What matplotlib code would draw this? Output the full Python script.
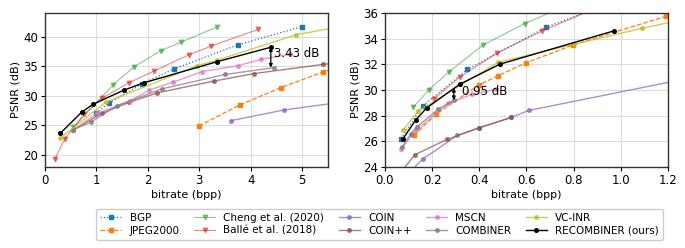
import numpy as np
import matplotlib
matplotlib.use('Agg')
import matplotlib.pyplot as plt

# left panel (Kodak-like)
l_bgp_x = [0.99, 1.25, 1.88, 2.50, 3.75, 5.00]
l_bgp_y = [27.1, 28.8, 32.0, 34.5, 38.6, 41.7]
l_jpeg_x = [2.99, 3.80, 4.59, 5.40, 6.00]
l_jpeg_y = [24.9, 28.5, 31.4, 34.0, 35.7]
l_cheng_x = [0.55, 1.33, 1.73, 2.26, 2.64, 3.34]
l_cheng_y = [24.7, 31.9, 34.9, 37.65, 39.05, 41.6]
l_balle_x = [0.19, 0.38, 0.76, 1.11, 1.63, 2.12, 2.79, 3.23, 4.14]
l_balle_y = [19.3, 22.7, 26.9, 29.6, 32.2, 34.2, 36.9, 38.4, 41.2]
l_coin_x = [3.61, 4.64, 6.50]
l_coin_y = [25.8, 27.6, 29.8]
l_coinpp_x = [0.55, 1.10, 1.64, 2.18, 3.29, 4.06, 5.40, 6.00]
l_coinpp_y = [24.2, 27.05, 28.9, 30.5, 32.5, 33.75, 35.3, 35.8]
l_mscn_x = [0.55, 1.01, 1.65, 2.02, 2.49, 3.06, 3.76, 4.20, 4.77]
l_mscn_y = [24.2, 27.05, 29.1, 30.95, 32.3, 34.1, 35.1, 36.15, 37.05]
l_comb_x = [0.55, 0.90, 1.39, 2.28, 3.50, 4.45]
l_comb_y = [24.3, 25.6, 28.3, 31.2, 33.6, 34.75]
l_vcinr_x = [0.29, 1.18, 2.96, 3.34, 4.88, 6.00]
l_vcinr_y = [22.85, 28.9, 35.1, 36.0, 40.3, 42.1]
l_recomb_x = [0.30, 0.72, 0.94, 1.53, 1.92, 3.34, 4.39]
l_recomb_y = [23.7, 27.3, 28.6, 30.95, 32.2, 35.75, 38.2]

# right panel (CIFAR-like)
r_bgp_x = [0.068, 0.16, 0.35, 0.685, 1.00]
r_bgp_y = [26.2, 28.75, 31.6, 34.9, 37.05]
r_jpeg_x = [0.123, 0.216, 0.40, 0.48, 0.597, 0.798, 1.193, 1.40]
r_jpeg_y = [26.45, 28.1, 30.4, 31.1, 32.1, 33.5, 35.74, 36.9]
r_cheng_x = [0.12, 0.186, 0.271, 0.416, 0.593, 0.80]
r_cheng_y = [28.65, 30.0, 31.4, 33.5, 35.17, 36.8]
r_balle_x = [0.208, 0.318, 0.477, 0.668, 0.95]
r_balle_y = [29.3, 31.0, 32.9, 34.6, 36.8]
r_coin_x = [0.10, 0.16, 0.306, 0.40, 0.535, 0.61, 1.30]
r_coin_y = [23.5, 24.6, 26.45, 27.05, 27.85, 28.4, 30.95]
r_coinpp_x = [0.06, 0.127, 0.264, 0.40, 0.535]
r_coinpp_y = [23.4, 24.95, 26.15, 27.05, 27.85]
r_mscn_x = [0.069, 0.131, 0.268, 0.37, 0.47]
r_mscn_y = [25.4, 26.85, 28.95, 29.65, 30.05]
r_comb_x = [0.073, 0.11, 0.134, 0.226, 0.292]
r_comb_y = [25.55, 26.6, 27.1, 28.5, 29.2]
r_vcinr_x = [0.078, 0.141, 0.48, 0.80, 1.09, 1.40]
r_vcinr_y = [26.9, 28.35, 32.15, 33.55, 34.8, 36.0]
r_recomb_x = [0.075, 0.13, 0.177, 0.318, 0.487, 0.971]
r_recomb_y = [26.15, 27.65, 28.6, 30.45, 32.0, 34.6]

# gap annotations: x, top, bottom, label
l_gap = (4.39, 38.2, 34.77, "3.43 dB")
r_gap = (0.292, 30.15, 29.2, "0.95 dB")

styles = {
    "BGP": dict(color="C0", ls=":", marker="s", ms=3, lw=0.9),
    "JPEG2000": dict(color="C1", ls="--", marker="s", ms=3, lw=0.9),
    "Cheng et al. (2020)": dict(color="C2", ls="-", marker="v", ms=3.3, lw=0.8, alpha=0.55),
    "Ballé et al. (2018)": dict(color="C3", ls="-", marker="v", ms=3.3, lw=0.8, alpha=0.55),
    "COIN": dict(color="C4", ls="-", marker="o", ms=2.6, lw=1.0, alpha=0.75),
    "COIN++": dict(color="C5", ls="-", marker="o", ms=2.6, lw=1.0, alpha=0.75),
    "MSCN": dict(color="C6", ls="-", marker="o", ms=2.6, lw=1.0, alpha=0.75),
    "COMBINER": dict(color="C7", ls="-", marker="o", ms=2.6, lw=1.0, alpha=0.75),
    "VC-INR": dict(color="C8", ls="-", marker="o", ms=2.6, lw=1.0, alpha=0.75),
    "RECOMBINER (ours)": dict(color="black", ls="-", marker="o", ms=2.6, lw=1.0),
}

left = {
    "BGP": (l_bgp_x, l_bgp_y), "JPEG2000": (l_jpeg_x, l_jpeg_y),
    "Cheng et al. (2020)": (l_cheng_x, l_cheng_y), "Ballé et al. (2018)": (l_balle_x, l_balle_y),
    "COIN": (l_coin_x, l_coin_y), "COIN++": (l_coinpp_x, l_coinpp_y),
    "MSCN": (l_mscn_x, l_mscn_y), "COMBINER": (l_comb_x, l_comb_y),
    "VC-INR": (l_vcinr_x, l_vcinr_y), "RECOMBINER (ours)": (l_recomb_x, l_recomb_y),
}
right = {
    "BGP": (r_bgp_x, r_bgp_y), "JPEG2000": (r_jpeg_x, r_jpeg_y),
    "Cheng et al. (2020)": (r_cheng_x, r_cheng_y), "Ballé et al. (2018)": (r_balle_x, r_balle_y),
    "COIN": (r_coin_x, r_coin_y), "COIN++": (r_coinpp_x, r_coinpp_y),
    "MSCN": (r_mscn_x, r_mscn_y), "COMBINER": (r_comb_x, r_comb_y),
    "VC-INR": (r_vcinr_x, r_vcinr_y), "RECOMBINER (ours)": (r_recomb_x, r_recomb_y),
}

plt.rcParams['font.size'] = 8

fig = plt.figure(figsize=(6.85, 2.48), dpi=100)
ax1 = fig.add_axes([0.0657, 0.327, 0.413, 0.621])
ax2 = fig.add_axes([0.562, 0.327, 0.413, 0.621])


def draw(ax, data, gap, xlim, ylim, xticks, yticks, text_dx):
    for name, (xs, ys) in data.items():
        ax.plot(xs, ys, label=name, **styles[name])
    x, top, bot, txt = gap
    ax.annotate("", xy=(x, bot), xytext=(x, top),
                arrowprops=dict(arrowstyle="<|-|>", color="black", lw=0.9,
                                mutation_scale=5, shrinkA=0, shrinkB=0))
    ax.text(x + text_dx, (top + bot) / 2 + 0.2 * (top - bot), txt,
            fontsize=8.5, va="center", ha="left")
    ax.set_xlim(*xlim)
    ax.set_ylim(*ylim)
    ax.set_xticks(xticks)
    ax.set_yticks(yticks)
    ax.grid(True, color="#dddddd", lw=0.8)
    ax.set_axisbelow(True)
    ax.set_xlabel("bitrate (bpp)", labelpad=2, fontsize=8)
    ax.set_ylabel("PSNR (dB)", labelpad=2, fontsize=8)
    for s in ax.spines.values():
        s.set_color("#333333")
        s.set_linewidth(1.0)
    ax.tick_params(labelsize=8.5, length=3, pad=2)


draw(ax1, left, l_gap, (0, 5.5), (18, 44), range(0, 6), range(20, 45, 5), 0.06)
draw(ax2, right, r_gap, (0, 1.2), (24, 36), np.arange(0, 1.21, 0.2), range(24, 37, 2), 0.035)
ax1.set_xticklabels([str(v) for v in range(0, 6)])
ax2.set_xticklabels([f"{v:.1f}" for v in np.arange(0, 1.21, 0.2)])

handles, labels = ax1.get_legend_handles_labels()
fig.legend(handles, labels, ncol=5, loc="upper left",
           bbox_to_anchor=(0.133, 0.18), fontsize=7.5,
           columnspacing=1.4, handlelength=2.0, borderpad=0.4,
           labelspacing=0.3, framealpha=1, edgecolor="#cccccc")

fig.savefig("out.png", dpi=100)
